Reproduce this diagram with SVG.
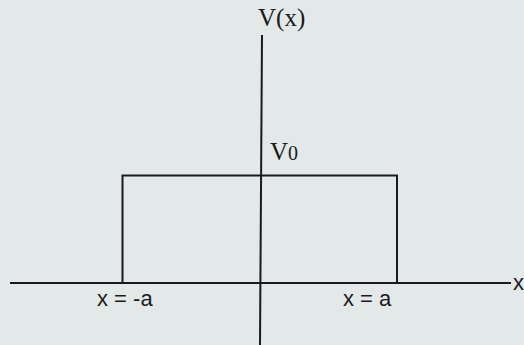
<svg xmlns="http://www.w3.org/2000/svg" width="524" height="345" viewBox="0 0 524 345">
<style>
.ln{stroke:#1a1a1a;stroke-width:2;fill:none}
.serif{font-family:"Liberation Serif","Times New Roman",serif;fill:#1a1a1a}
.sans{font-family:"Liberation Sans",Arial,sans-serif;fill:#1a1a1a;font-size:22px}
</style>
<rect width="524" height="345" fill="#e3e8e8"/>
<g id="axes">
<line class="ln" x1="10" y1="283" x2="511" y2="283"/>
<line class="ln" x1="262" y1="35" x2="260" y2="345"/>
</g>
<g id="barrier">
<polyline class="ln" points="122.5,283 122.5,175.5 397,175.5 397,283"/>
</g>
<g id="labels">
<text class="serif" x="258" y="26" font-size="25">V(x)</text>
<text class="serif" x="270" y="160" font-size="25">V<tspan font-size="20">0</tspan></text>
<text class="sans" x="97" y="306">x = -a</text>
<text class="sans" x="343" y="306">x = a</text>
<text class="sans" x="513" y="290">x</text>
</g>
</svg>
